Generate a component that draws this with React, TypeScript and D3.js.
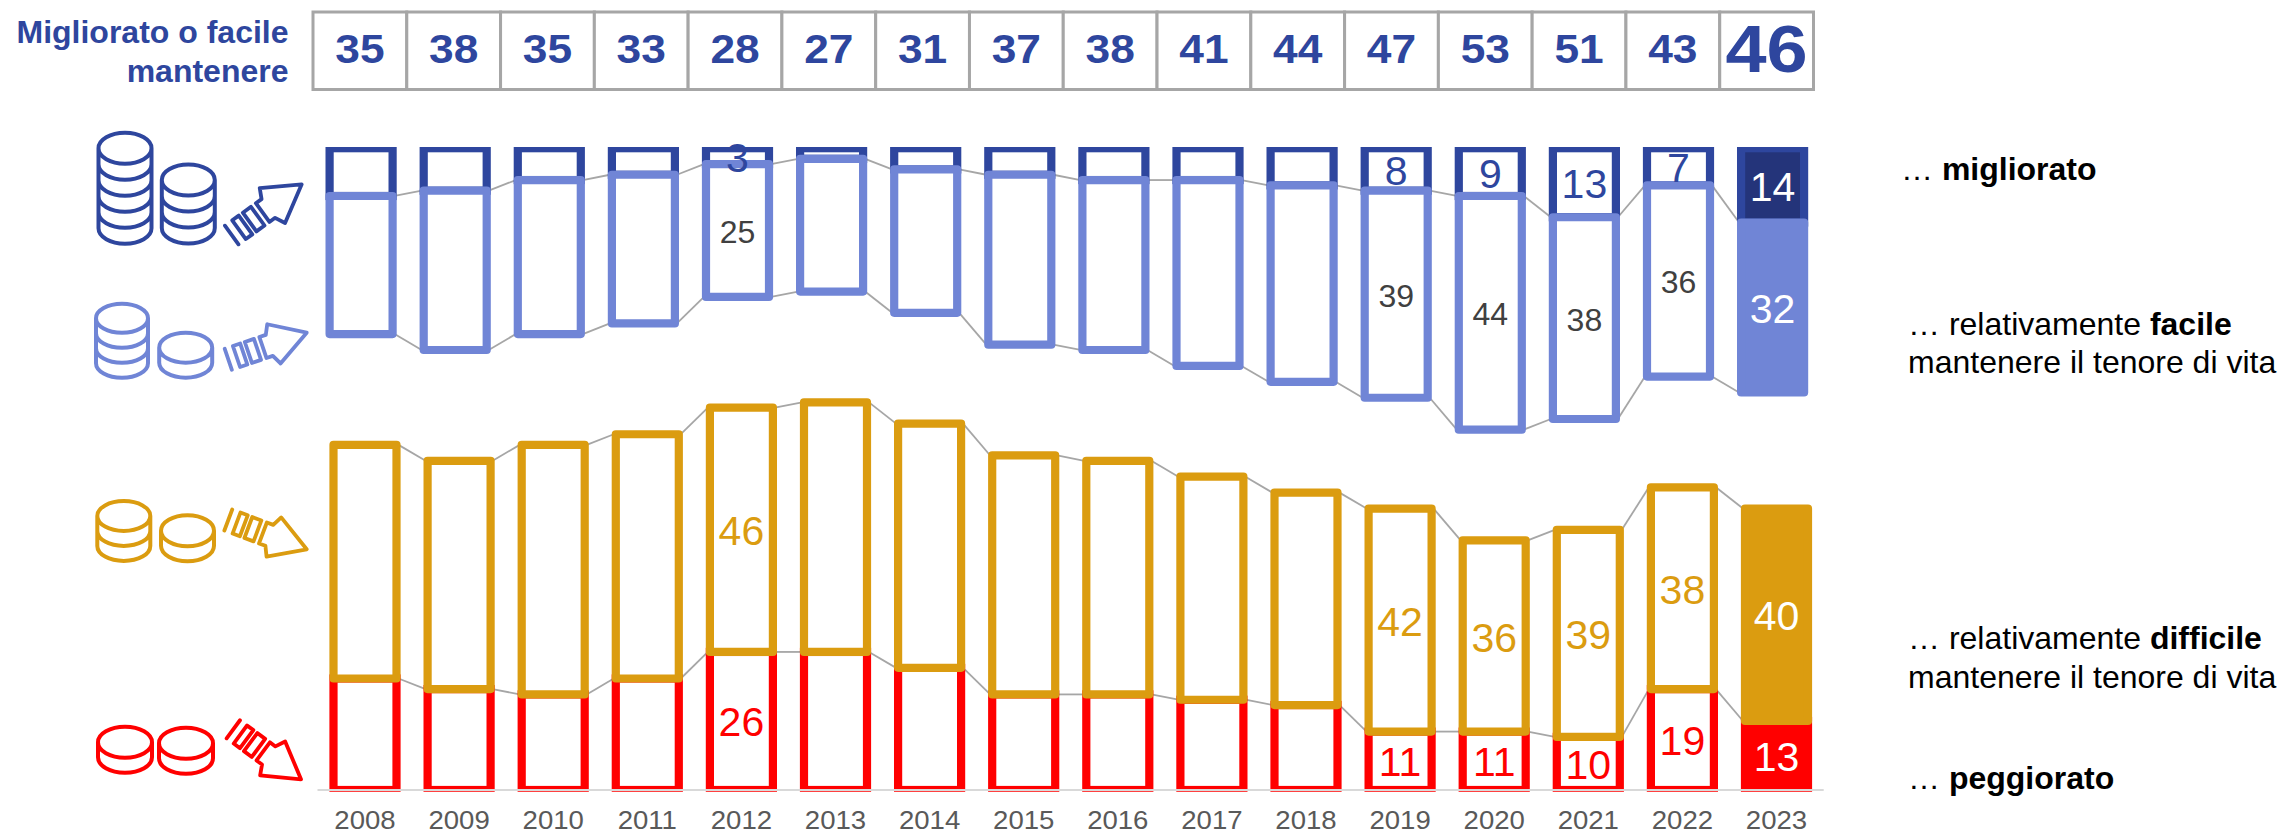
import React from "react";
import * as d3 from "d3";

const years = ["2008","2009","2010","2011","2012","2013","2014","2015","2016","2017","2018","2019","2020","2021","2022","2023"];
const headerValues = [35,38,35,33,28,27,31,37,38,41,44,47,53,51,43,46];
const improvedValues = [9,8,6,5,3,2,4,5,6,6,7,8,9,13,7,14];
const easyValues = [26,30,29,28,25,25,27,32,32,35,37,39,44,38,36,32];
const hardValues = [44,43,47,46,46,47,46,45,44,42,40,42,36,39,38,40];
const worseValues = [21,19,18,21,26,26,23,18,18,17,16,11,11,10,19,13];
const labelledYears = ["2012","2019","2020","2021","2022","2023"];
const headerTitle = ["Migliorato o facile","mantenere"];

const DARK = "#2E469E", DARK_IN = "#24347A", LIGHT = "#7085D6", GOLD = "#DB9C10", RED = "#FF0000", GREY = "#A6A6A6";
const FONT = "'Liberation Sans', Arial, sans-serif";
const W = 2282, H = 835;

const xTop = d3.scaleBand<string>().domain(years).range([329.6, 329.6 + 15 * 94.1 + 63]).paddingInner(1 - 63 / 94.1).paddingOuter(0);
const xLow = d3.scaleBand<string>().domain(years).range([333.5, 333.5 + 15 * 94.1 + 63]).paddingInner(1 - 63 / 94.1).paddingOuter(0);
const xHead = d3.scaleBand<string>().domain(years).range([313, 1813.5]);
const unit = 5.31;
const yTop = d3.scaleLinear().domain([0, 100]).range([148.2, 148.2 + 100 * unit]);
const yLow = d3.scaleLinear().domain([0, 100]).range([790, 790 - 100 * unit]);

const rows = years.map((y, i) => ({ y, dark: improvedValues[i], light: easyValues[i], gold: hardValues[i], red: worseValues[i] }));
const topStack = d3.stack<any>().keys(["dark", "light"])(rows);
const lowStack = d3.stack<any>().keys(["red", "gold"])(rows);

function stretched(x: number, y: number, sx: number, size: number, fill: string, txt: any, weight = 400, key?: any) {
  return (
    <text key={key} transform={`translate(${x},${y}) scale(${sx},1)`} textAnchor="middle" fontFamily={FONT} fontSize={size} fontWeight={weight} fill={fill}>{txt}</text>
  );
}

function coinStack(cx: number, cy: number, rx: number, ry: number, layers: number, sp: number, color: string) {
  const low = (y: number) => `M${cx - rx},${y}A${rx},${ry} 0 0 0 ${cx + rx},${y}`;
  let d = `M${cx - rx},${cy}A${rx},${ry} 0 1 1 ${cx + rx},${cy}A${rx},${ry} 0 1 1 ${cx - rx},${cy}`;
  d3.range(1, layers + 1).forEach((k) => { d += low(cy + k * sp); });
  d += `M${cx - rx},${cy}V${cy + layers * sp}M${cx + rx},${cy}V${cy + layers * sp}`;
  return <path d={d} fill="none" stroke={color} strokeWidth={4} strokeLinecap="round" />;
}

function arrow(x0: number, y0: number, x1: number, y1: number, color: string) {
  const len = Math.hypot(x1 - x0, y1 - y0);
  const ang = (Math.atan2(y1 - y0, x1 - x0) * 180) / Math.PI;
  const k = len / 86;
  const hh = 11.5 * k, wing = 21.5 * k;
  const s = (v: number) => v * k;
  const d =
    `M0,${-hh}V${hh}` +
    `M${s(9)},${-hh}H${s(17)}V${hh}H${s(9)}Z` +
    `M${s(22)},${-hh}H${s(32)}V${hh}H${s(22)}Z` +
    `M${s(38)},${-hh}H${s(45)}L${s(50)},${-wing}L${len},0L${s(50)},${wing}L${s(45)},${hh}H${s(38)}Z`;
  return <path transform={`translate(${x0},${y0}) rotate(${ang})`} d={d} fill="none" stroke={color} strokeWidth={3.8} strokeLinejoin="round" strokeLinecap="round" />;
}

function bars(
  series: any, x: d3.ScaleBand<string>, y: d3.ScaleLinear<number, number>, color: string, join: "round" | "miter", inner: string | null, clip: string
) {
  const bw = x.bandwidth();
  return (
    <g clipPath={clip}>
      {series.map((d: any, i: number) => {
        const a = y(d[0]), b = y(d[1]);
        const last = i === years.length - 1;
        return (
          <rect key={years[i]} x={x(years[i])} y={Math.min(a, b)} width={bw} height={Math.abs(b - a)}
            fill={last ? inner ?? color : "white"} stroke={color} strokeWidth={8.2} strokeLinejoin={join} />
        );
      })}
    </g>
  );
}

function connectors(levels: number[], x: d3.ScaleBand<string>, y: d3.ScaleLinear<number, number>, key: string) {
  const bw = x.bandwidth();
  return levels.slice(0, -1).map((v, i) => (
    <line key={key + i} x1={x(years[i])! + bw + 2} y1={y(v)} x2={x(years[i + 1])! - 2} y2={y(levels[i + 1])} stroke={GREY} strokeWidth={1.8} />
  ));
}

function barLabels(series: any, x: d3.ScaleBand<string>, y: d3.ScaleLinear<number, number>, vals: number[], size: number, color: string, lastColor: string, dy: number, key: string, lastSize = size, lastDy = dy) {
  return years.map((yr, i) => {
    if (!labelledYears.includes(yr)) return null;
    const mid = (y(series[i][0]) + y(series[i][1])) / 2;
    const cx = x(yr)! + x.bandwidth() / 2;
    const last = i === years.length - 1;
    return stretched(cx, mid + (last ? lastDy : dy), 1, last ? lastSize : size, last ? lastColor : color, vals[i], 400, key + yr);
  });
}

export default function App() {
  return (
    <svg width={W} height={H} viewBox={`0 0 ${W} ${H}`} style={{ position: "absolute", left: 0, top: 0, display: "block", background: "white" }}>
      <defs>
        <clipPath id="clipTop"><rect x={0} y={147} width={W} height={400} /></clipPath>
        <clipPath id="clipLow"><rect x={0} y={300} width={W} height={491.7} /></clipPath>
      </defs>

      {/* header */}
      {headerTitle.map((t, i) => (
        <text key={t} x={288.5} y={43.3 + i * 38.4} textAnchor="end" fontFamily={FONT} fontSize={32} fontWeight={700} fill={DARK}>{t}</text>
      ))}
      {years.map((yr) => (
        <rect key={yr} x={xHead(yr)} y={12} width={xHead.bandwidth()} height={77.5} fill="white" stroke={GREY} strokeWidth={3} />
      ))}
      {years.map((yr, i) => {
        const cx = xHead(yr)! + xHead.bandwidth() / 2;
        const last = i === years.length - 1;
        return stretched(cx, last ? 71.7 : 62.5, last ? 1.12 : 1.08, last ? 66 : 41, DARK, headerValues[i], 700, "h" + yr);
      })}

      {/* connectors */}
      {connectors(topStack[0].map((d) => d[1]), xTop, yTop, "c1")}
      {connectors(topStack[1].map((d) => d[1]), xTop, yTop, "c2")}
      {connectors(lowStack[1].map((d) => d[1]), xLow, yLow, "c3")}
      {connectors(lowStack[0].map((d) => d[1]), xLow, yLow, "c4")}

      {/* bars */}
      {bars(topStack[0], xTop, yTop, DARK, "miter", DARK_IN, "url(#clipTop)")}
      {bars(topStack[1], xTop, yTop, LIGHT, "round", LIGHT, "url(#clipTop)")}
      {bars(lowStack[0], xLow, yLow, RED, "miter", RED, "url(#clipLow)")}
      {bars(lowStack[1], xLow, yLow, GOLD, "round", GOLD, "url(#clipLow)")}

      {/* axis */}
      <line x1={317.5} x2={1823.7} y1={790} y2={790} stroke="#D9D9D9" strokeWidth={1.8} />
      {years.map((yr) => stretched(xLow(yr)! + xLow.bandwidth() / 2, 829, 1.04, 26.5, "#595959", yr, 400, "y" + yr))}

      {/* bar labels */}
      {barLabels(topStack[0], xTop, yTop, improvedValues, 41, DARK, "white", 15.5, "d")}
      {barLabels(topStack[1], xTop, yTop, easyValues, 32, "#404040", "white", 12.5, "l", 41, 15.5)}
      {barLabels(lowStack[1], xLow, yLow, hardValues, 41, GOLD, "white", 15.5, "g")}
      {barLabels(lowStack[0], xLow, yLow, worseValues, 41, RED, "white", 15.5, "r")}

      {/* legend text */}
      <g fontFamily={FONT} fontSize={32} fill="#000">
        <text x={1901} y={180}>… <tspan fontWeight={700}>migliorato</tspan></text>
        <text x={1908} y={335}>… relativamente <tspan fontWeight={700}>facile</tspan></text>
        <text x={1908} y={373.3}>mantenere il tenore di vita</text>
        <text x={1908} y={649}>… relativamente <tspan fontWeight={700}>difficile</tspan></text>
        <text x={1908} y={688}>mantenere il tenore di vita</text>
        <text x={1908} y={789}>… <tspan fontWeight={700}>peggiorato</tspan></text>
      </g>

      {/* icons */}
      {coinStack(125, 148.3, 26.5, 15.5, 5, 16, DARK)}
      {coinStack(188.3, 180, 26.5, 15.5, 3, 16, DARK)}
      {arrow(231.7, 235, 301.7, 184.3, DARK)}
      {coinStack(122, 318.3, 26, 14.5, 3, 15, LIGHT)}
      {coinStack(185.7, 347.7, 26.5, 15, 1, 15, LIGHT)}
      {arrow(228.3, 359.3, 306.7, 332.7, LIGHT)}
      {coinStack(123.8, 516, 26.5, 15, 2, 15, GOLD)}
      {coinStack(187.5, 530.7, 26.5, 15.5, 1, 15, GOLD)}
      {arrow(228.3, 520, 306.7, 549.3, GOLD)}
      {coinStack(125, 742.3, 27, 15.5, 1, 15, RED)}
      {coinStack(186, 743.3, 27, 15.5, 1, 15, RED)}
      {arrow(233.3, 729.3, 301, 779.3, RED)}
    </svg>
  );
}
